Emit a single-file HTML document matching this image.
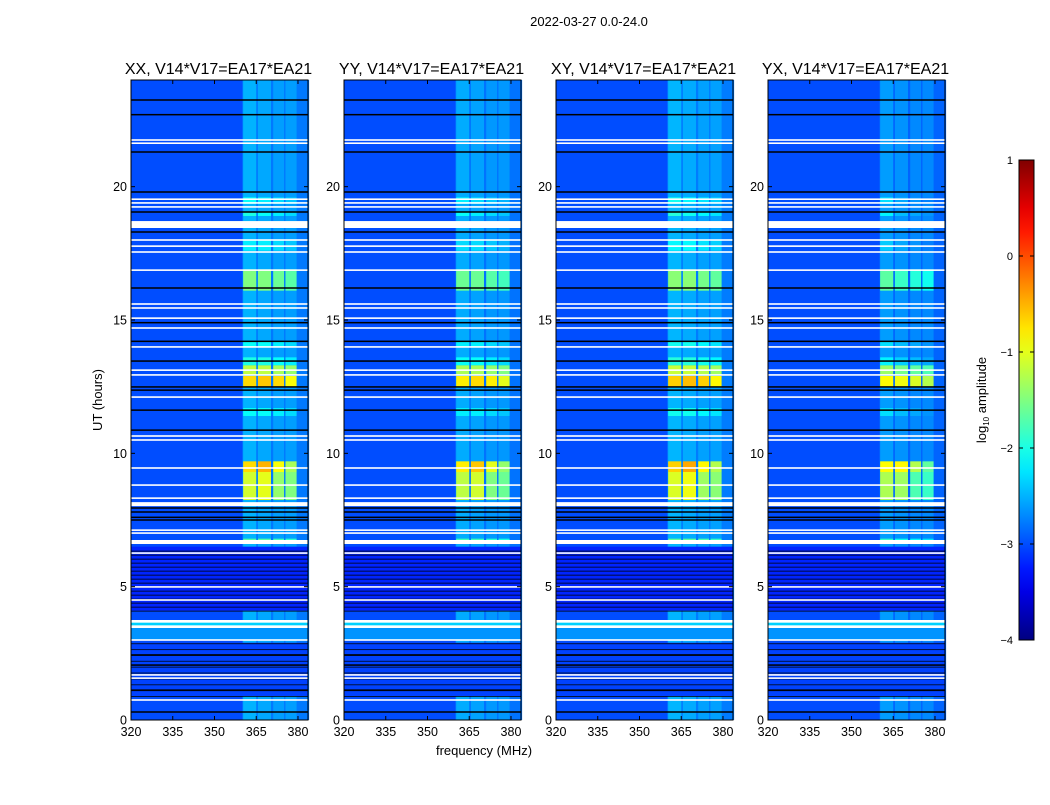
<!DOCTYPE html>
<html><head><meta charset="utf-8">
<style>
body{margin:0;background:#fff;font-family:"Liberation Sans",sans-serif;}
svg text{font-family:"Liberation Sans",sans-serif;fill:#000;}
</style></head>
<body>
<svg id="fig" width="1050" height="800" xmlns="http://www.w3.org/2000/svg">
<rect width="1050" height="800" fill="#fff"/>
<text x="589" y="26" font-size="13" text-anchor="middle">2022-03-27 0.0-24.0</text>
<text transform="translate(102,400) rotate(-90)" font-size="13" text-anchor="middle">UT (hours)</text>
<text x="484" y="755" font-size="13" text-anchor="middle">frequency (MHz)</text>
<g id="panels"></g>
<g id="cbar"></g>
</svg>
<script>
// ---- data ----
const panelTitles = ["XX, V14*V17=EA17*EA21","YY, V14*V17=EA17*EA21","XY, V14*V17=EA17*EA21","YX, V14*V17=EA17*EA21"];
const panelOffset = [0, -0.1, 0.05, -0.35];
const xTicks = [320,335,350,365,380];
const yTicks = [0,5,10,15,20];
const cbTicks = [1,0,-1,-2,-3,-4];
const baseLevel = -3.0;
const rfiZone = [360, 384, -2.78];
const bands = [[360.3,365],[365.6,370.3],[371.1,375],[375.5,379.5]];
const bandStreak = [-2.5,-2.55,-2.6,-2.6];
// [hStart, hEnd, band1, band2, band3, band4] log amplitude
const rfiBlocks = [
 [19.35,19.6,-2.1,-2.2,-2.3,-2.4],
 [18.9,19.05,-2.0,-2.1,-2.2,-2.3],
 [17.6,18.0,-2.2,-2.2,-2.3,-2.4],
 [16.1,16.9,-1.5,-1.5,-1.6,-1.7],
 [14.0,14.2,-2.1,-2.1,-2.2,-2.3],
 [13.3,13.6,-2.0,-2.0,-2.1,-2.2],
 [12.95,13.3,-1.2,-1.2,-1.3,-1.4],
 [12.5,12.9,-0.7,-0.6,-0.7,-0.9],
 [11.4,11.7,-2.1,-2.1,-2.2,-2.3],
 [8.25,9.3,-1.1,-1.0,-1.4,-1.5],
 [9.3,9.7,-0.7,-0.5,-0.9,-1.3],
 [6.6,6.8,-1.7,-1.7,-1.8,-1.9]
];
const darkRegions = [[4.1,6.5,-3.2],[0.9,2.9,-3.05]];
const lightRegions = [[3.0,3.45,-2.65],[3.45,3.7,-2.35]];
const whiteGaps = [[21.72,21.78],[21.6,21.66],[19.5,19.56],[19.36,19.42],[19.21,19.27],[18.45,18.71],[17.97,18.03],[17.74,17.8],[17.52,17.58],[16.84,16.9],[15.57,15.63],[15.42,15.48],[15.04,15.1],[14.67,14.73],[13.96,14.02],[13.09,13.15],[12.91,12.97],[12.08,12.14],[10.62,10.68],[10.47,10.53],[9.42,9.48],[8.78,8.84],[8.29,8.35],[8.02,8.17],[7.09,7.15],[6.98,7.04],[6.6,6.75],[6.23,6.29],[4.96,5.02],[4.47,4.53],[3.65,3.75],[3.45,3.55],[2.97,3.03],[1.66,1.72],[1.54,1.6],[0.72,0.78]];
const blackLines = [23.25,22.7,21.3,19.8,19.05,18.3,16.2,14.9,14.2,13.46,12.49,12.37,11.62,10.87,7.95,7.8,7.6,7.5,2.44,2.06,1.12,0.3];

// ---- helpers ----
const NS="http://www.w3.org/2000/svg";
function mk(tag,attrs,parent){const e=document.createElementNS(NS,tag);for(const k in attrs)e.setAttribute(k,attrs[k]);parent.appendChild(e);return e;}
function jet(v){let t=(v+4)/5;t=Math.max(0,Math.min(1,t));
 const r=Math.max(0,Math.min(1,Math.min(4*t-1.5,-4*t+4.5)));
 const g=Math.max(0,Math.min(1,Math.min(4*t-0.5,-4*t+3.5)));
 const b=Math.max(0,Math.min(1,Math.min(4*t+0.5,-4*t+2.5)));
 return `rgb(${Math.round(r*255)},${Math.round(g*255)},${Math.round(b*255)})`;}
const panelsX=[131,344,556,768], PW=177, PT=80, PB=720;
const fMin=320, fMax=383.6, hMax=24;
const panelsG=document.getElementById('panels');
panelsX.forEach((px,pi)=>{
 const xs=f=>px+(f-fMin)/(fMax-fMin)*PW;
 const ys=h=>PB-h/hMax*(PB-PT);
 const off=panelOffset[pi];
 const g=mk('g',{},panelsG);
 
 
 const bg=mk('rect',{x:px,y:PT,width:PW,height:PB-PT,fill:jet(baseLevel)},g);
 
 
 const z=mk('rect',{x:xs(rfiZone[0]),y:PT,width:xs(rfiZone[1])-xs(rfiZone[0]),height:PB-PT,fill:jet(rfiZone[2]+off*0.3)},g);
 
 
 bands.forEach((bd,bi)=>{const s=mk('rect',{x:xs(bd[0]),y:PT,width:xs(bd[1])-xs(bd[0]),height:PB-PT,fill:jet(bandStreak[bi]+off*0.3)},g);
  
  });
 lightRegions.forEach(r=>{const e=mk('rect',{x:px,y:ys(r[1]),width:PW,height:ys(r[0])-ys(r[1]),fill:jet(r[2])},g);
  
  });
 darkRegions.forEach((r,ri)=>{const e=mk('rect',{x:px,y:ys(r[1]),width:PW,height:ys(r[0])-ys(r[1]),fill:jet(r[2])},g);
  
  
  const step=ri===0?0.15:0.22;
  for(let h=r[0];h<r[1];h+=step){const l=mk('rect',{x:px,y:ys(h),width:PW,height:1,fill:'#000',opacity:0.75},g);
   
   }});
 rfiBlocks.forEach(b=>{bands.forEach((bd,bi)=>{
  const e=mk('rect',{x:xs(bd[0]),y:ys(b[1]),width:xs(bd[1])-xs(bd[0]),height:ys(b[0])-ys(b[1]),fill:jet(b[2+bi]+off*(bi===0&&pi===3?0.5:1))},g);
  
  });});
 blackLines.forEach(h=>{const e=mk('rect',{x:px,y:ys(h)-0.75,width:PW,height:1.5,fill:'#000'},g);
  
  });
 whiteGaps.forEach(w=>{const y1=ys(w[1]),y0=ys(w[0]);const e=mk('rect',{x:px,y:y1,width:PW,height:Math.max(1.5,y0-y1),fill:'#fff'},g);
  
  });
 mk('rect',{x:px,y:PT,width:PW,height:PB-PT,fill:'none',stroke:'#000','stroke-width':1},g);
 const t=mk('text',{x:px+PW/2-1,y:74,'font-size':16,'text-anchor':'middle'},g);t.textContent=panelTitles[pi];
 
 
 xTicks.forEach(v=>{const x=xs(v);
  mk('line',{x1:x,x2:x,y1:PB,y2:PB-4,stroke:'#000'},g);mk('line',{x1:x,x2:x,y1:PT,y2:PT+4,stroke:'#000'},g);
  const l=mk('text',{x:x,y:736,'font-size':12.5,'text-anchor':'middle'},g);l.textContent=v;
  
  });
 yTicks.forEach(v=>{const y=ys(v);
  mk('line',{x1:px,x2:px+4,y1:y,y2:y,stroke:'#000'},g);mk('line',{x1:px+PW,x2:px+PW-4,y1:y,y2:y,stroke:'#000'},g);
  const l=mk('text',{x:px-4,y:y+4.5,'font-size':12.5,'text-anchor':'end'},g);l.textContent=v;
  
  });
});
// colorbar
const cb=document.getElementById('cbar');
const cbx=1019,cbw=15,cbt=160,cbb=640;
const cy=v=>cbb-(v+4)/5*(cbb-cbt);
const defs=mk('defs',{},cb);
const grad=mk('linearGradient',{id:'jetg',x1:0,y1:1,x2:0,y2:0},defs);
for(let i=0;i<=20;i++){mk('stop',{offset:i/20,'stop-color':jet(-4+i*5/20)},grad);}
mk('rect',{x:cbx,y:cbt,width:cbw,height:cbb-cbt,fill:'url(#jetg)',stroke:'#000'},cb);
cbTicks.forEach(v=>{const y=cy(v);
 mk('line',{x1:cbx,x2:cbx+4,y1:y,y2:y,stroke:'#000'},cb);mk('line',{x1:cbx+cbw,x2:cbx+cbw-4,y1:y,y2:y,stroke:'#000'},cb);
 const l=mk('text',{x:1013,y:y+4,'font-size':11,'text-anchor':'end'},cb);l.textContent=(v<0?'\u2212'+(-v):v);
 
 });
const cl=mk('text',{transform:'translate(986,400) rotate(-90)','font-size':13,'text-anchor':'middle'},cb);
cl.innerHTML='log<tspan font-size="8" dy="3">10</tspan><tspan dy="-3"> amplitude</tspan>';


</script>
</body></html>
